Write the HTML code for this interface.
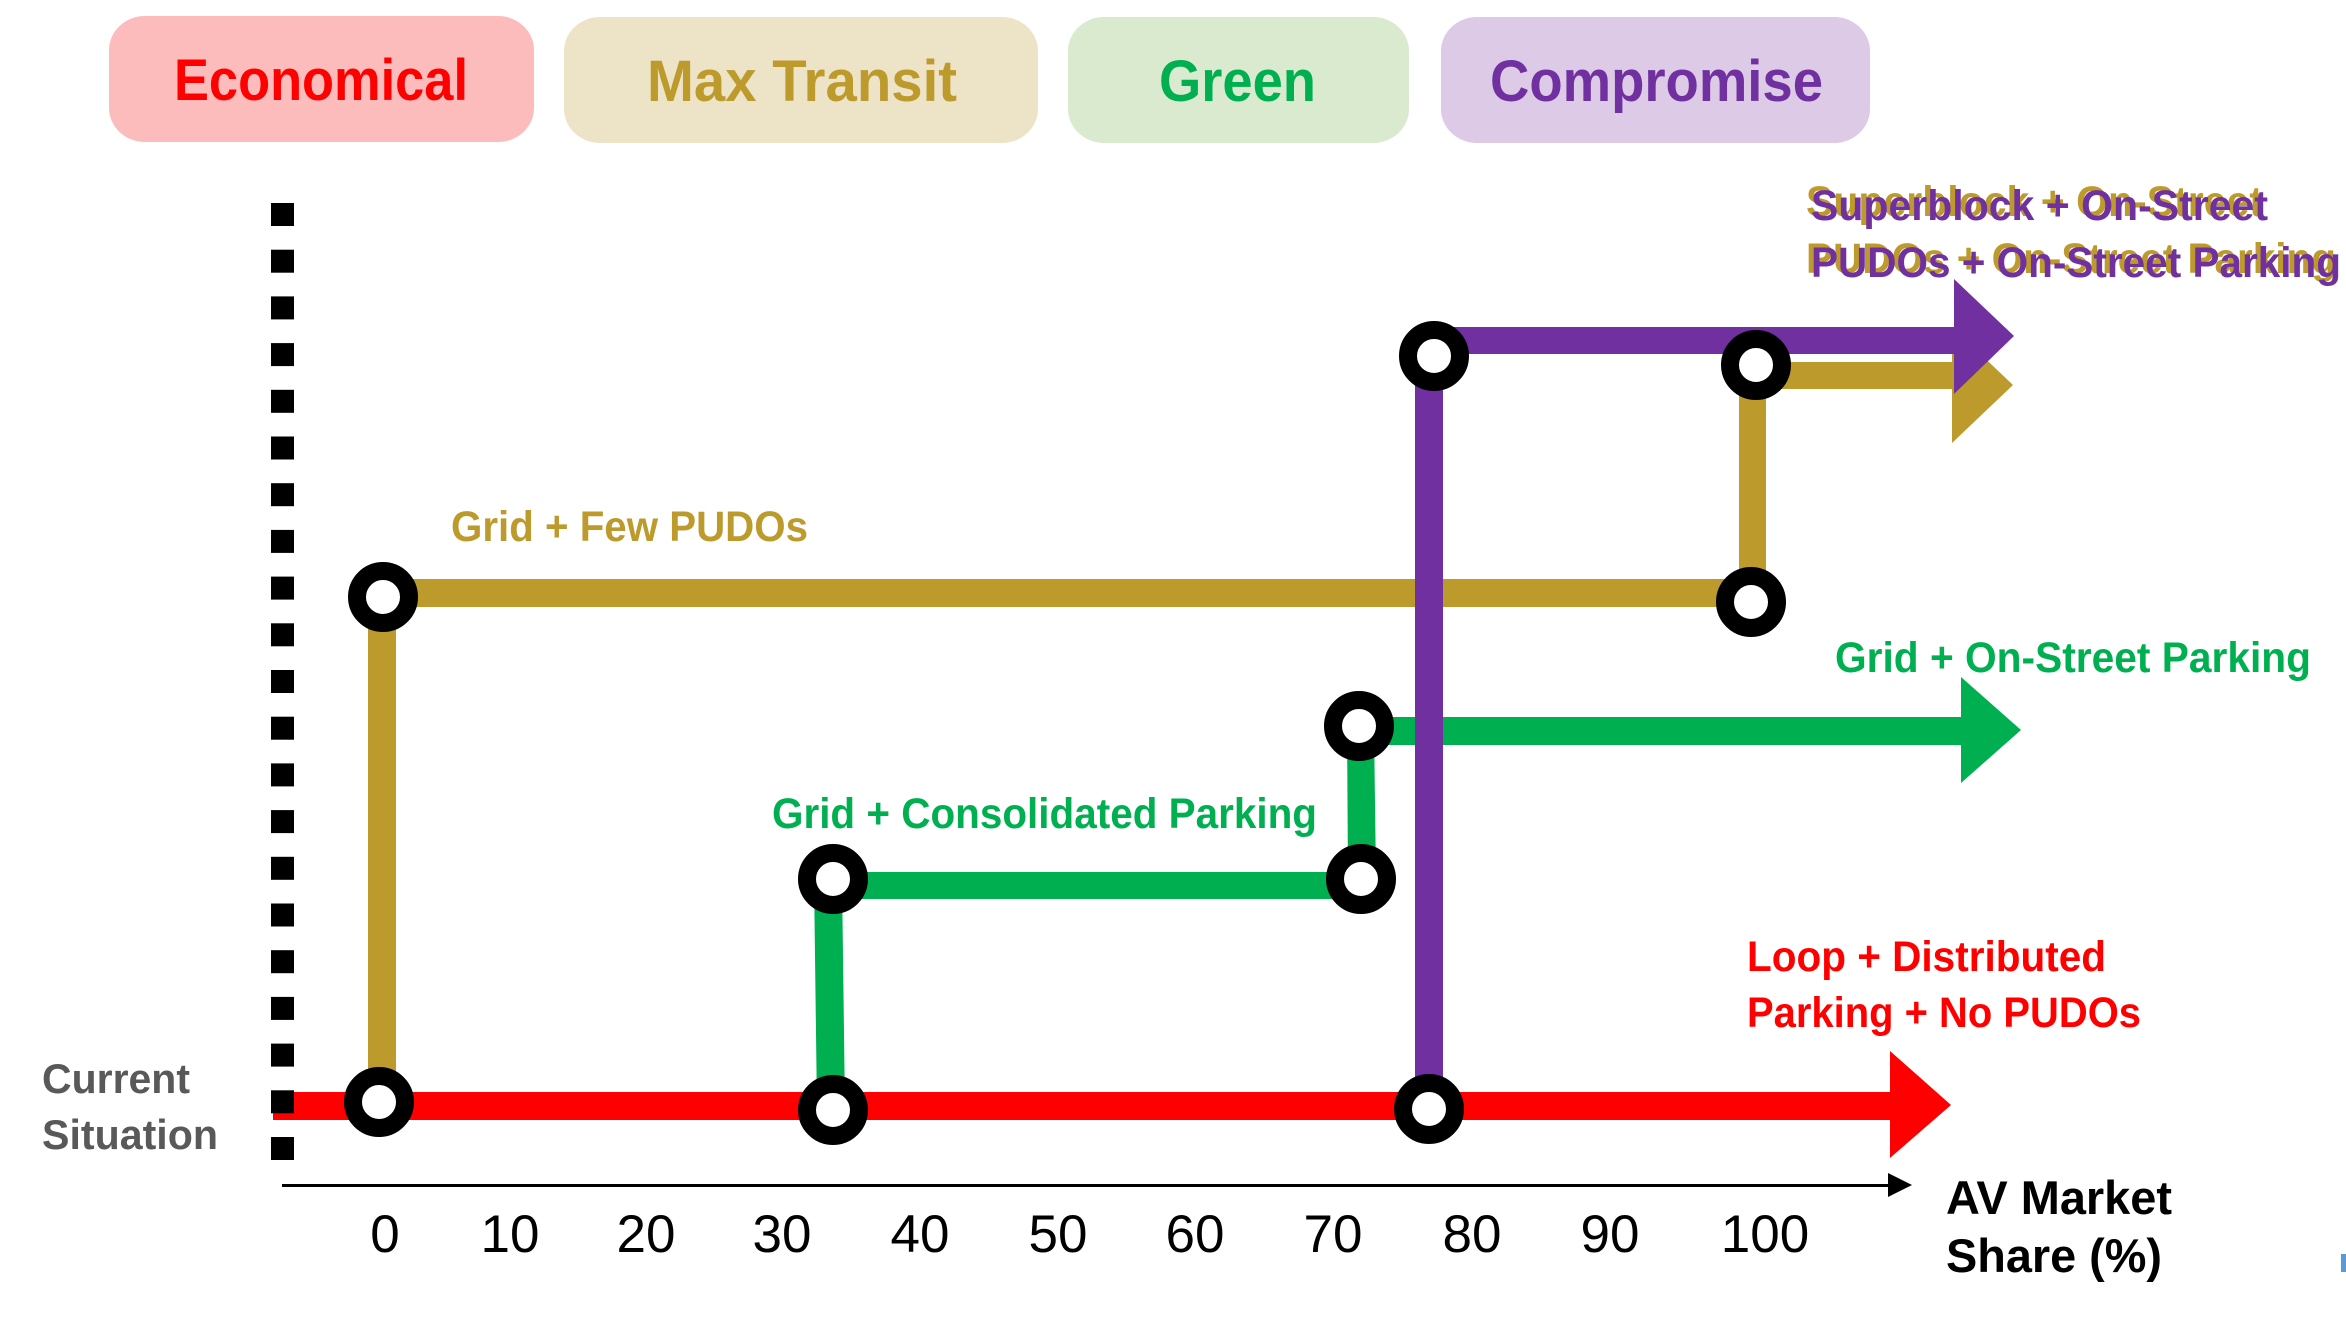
<!DOCTYPE html>
<html>
<head>
<meta charset="utf-8">
<style>
  html, body { margin: 0; padding: 0; background: #ffffff; }
  svg { display: block; }
  .cal { font-family: "Liberation Sans", "DejaVu Sans", sans-serif; font-weight: bold; }
  .ax { font-family: "Liberation Sans", Arial, sans-serif; }
</style>
</head>
<body>
<svg width="2346" height="1324" viewBox="0 0 2346 1324" xmlns="http://www.w3.org/2000/svg">
  <rect x="0" y="0" width="2346" height="1324" fill="#ffffff"/>

  <!-- Legend pills -->
  <rect x="109" y="16" width="425" height="126" rx="36" ry="34" fill="#FDBCBC"/>
  <rect x="564" y="17" width="474" height="126" rx="36" ry="34" fill="#EDE4C8"/>
  <rect x="1068" y="17" width="341" height="126" rx="36" ry="34" fill="#DAEACF"/>
  <rect x="1441" y="17" width="429" height="126" rx="36" ry="34" fill="#DCCAE6"/>
  <text class="cal" x="174" y="100" font-size="58" fill="#FF0000" textLength="294" lengthAdjust="spacingAndGlyphs">Economical</text>
  <text class="cal" x="647" y="101" font-size="58" fill="#BD9A2C" textLength="310" lengthAdjust="spacingAndGlyphs">Max Transit</text>
  <text class="cal" x="1159" y="101" font-size="58" fill="#00B050" textLength="157" lengthAdjust="spacingAndGlyphs">Green</text>
  <text class="cal" x="1490" y="101" font-size="58" fill="#7030A0" textLength="333" lengthAdjust="spacingAndGlyphs">Compromise</text>

  <!-- Red line -->
  <rect x="273" y="1092" width="1618" height="28" fill="#FF0000"/>
  <polygon points="1890,1051 1951,1105 1890,1158" fill="#FF0000"/>

  <!-- Dotted vertical line (drawn over red line) -->
  <g fill="#000000">
    <rect x="271" y="203" width="23" height="23"/>
    <rect x="271" y="249.7" width="23" height="23"/>
    <rect x="271" y="296.4" width="23" height="23"/>
    <rect x="271" y="343.1" width="23" height="23"/>
    <rect x="271" y="389.8" width="23" height="23"/>
    <rect x="271" y="436.5" width="23" height="23"/>
    <rect x="271" y="483.2" width="23" height="23"/>
    <rect x="271" y="529.9" width="23" height="23"/>
    <rect x="271" y="576.6" width="23" height="23"/>
    <rect x="271" y="623.3" width="23" height="23"/>
    <rect x="271" y="670" width="23" height="23"/>
    <rect x="271" y="716.7" width="23" height="23"/>
    <rect x="271" y="763.4" width="23" height="23"/>
    <rect x="271" y="810.1" width="23" height="23"/>
    <rect x="271" y="856.8" width="23" height="23"/>
    <rect x="271" y="903.5" width="23" height="23"/>
    <rect x="271" y="950.2" width="23" height="23"/>
    <rect x="271" y="996.9" width="23" height="23"/>
    <rect x="271" y="1043.6" width="23" height="23"/>
    <rect x="271" y="1090.3" width="23" height="23"/>
    <rect x="271" y="1137" width="23" height="23"/>
  </g>

  <!-- Gold line -->
  <rect x="368" y="597" width="28" height="505" fill="#BD9A2C"/>
  <rect x="383" y="579" width="1368" height="28" fill="#BD9A2C"/>
  <rect x="1739" y="365" width="27" height="237" fill="#BD9A2C"/>
  <rect x="1756" y="362" width="197" height="27" fill="#BD9A2C"/>
  <polygon points="1952,327 2013,385 1952,443" fill="#BD9A2C"/>

  <!-- Green line -->
  <polygon points="814,879 842,879 845,1110 817,1110" fill="#00B050"/>
  <rect x="833" y="872" width="528" height="27" fill="#00B050"/>
  <polygon points="1347,726 1374,726 1376,879 1348,879" fill="#00B050"/>
  <rect x="1359" y="717" width="603" height="28" fill="#00B050"/>
  <polygon points="1961,677 2021,730 1961,783" fill="#00B050"/>

  <!-- Purple line -->
  <rect x="1415" y="356" width="28" height="753" fill="#7030A0"/>
  <rect x="1434" y="327" width="521" height="27" fill="#7030A0"/>
  <polygon points="1954,279 2014,336 1954,394" fill="#7030A0"/>

  <!-- Stations -->
  <g fill="#ffffff" stroke="#000000" stroke-width="18">
    <circle cx="379" cy="1102" r="26"/>
    <circle cx="833" cy="1110" r="26"/>
    <circle cx="1429" cy="1109" r="26"/>
    <circle cx="383" cy="597" r="26"/>
    <circle cx="1751" cy="602" r="26"/>
    <circle cx="1756" cy="365" r="26"/>
    <circle cx="1434" cy="356" r="26"/>
    <circle cx="833" cy="879" r="26"/>
    <circle cx="1361" cy="879" r="26"/>
    <circle cx="1359" cy="726" r="26"/>
  </g>

  <!-- Route labels -->
  <text class="cal" x="451" y="541" font-size="43" fill="#BD9A2C" textLength="357" lengthAdjust="spacingAndGlyphs">Grid + Few PUDOs</text>
  <text class="cal" x="772" y="828" font-size="43" fill="#00B050" textLength="545" lengthAdjust="spacingAndGlyphs">Grid + Consolidated Parking</text>
  <text class="cal" x="1835" y="672" font-size="43" fill="#00B050" textLength="476" lengthAdjust="spacingAndGlyphs">Grid + On-Street Parking</text>
  <text class="cal" x="1747" y="971" font-size="43" fill="#FF0000" textLength="359" lengthAdjust="spacingAndGlyphs">Loop + Distributed</text>
  <text class="cal" x="1747" y="1027" font-size="43" fill="#FF0000" textLength="394" lengthAdjust="spacingAndGlyphs">Parking + No PUDOs</text>

  <text class="cal" x="1806" y="216" font-size="43" fill="#BD9A2C" textLength="457" lengthAdjust="spacingAndGlyphs">Superblock + On-Street</text>
  <text class="cal" x="1806" y="273" font-size="43" fill="#BD9A2C" textLength="530" lengthAdjust="spacingAndGlyphs">PUDOs + On-Street Parking</text>
  <text class="cal" x="1811" y="220" font-size="43" fill="#7030A0" textLength="457" lengthAdjust="spacingAndGlyphs">Superblock + On-Street</text>
  <text class="cal" x="1811" y="277" font-size="43" fill="#7030A0" textLength="530" lengthAdjust="spacingAndGlyphs">PUDOs + On-Street Parking</text>

  <text class="cal" x="42" y="1093" font-size="42" fill="#595959" textLength="148" lengthAdjust="spacingAndGlyphs">Current</text>
  <text class="cal" x="42" y="1149" font-size="42" fill="#595959" textLength="176" lengthAdjust="spacingAndGlyphs">Situation</text>

  <!-- Axis -->
  <rect x="282" y="1184" width="1608" height="3" fill="#000000"/>
  <polygon points="1888,1173 1912,1185 1888,1197" fill="#000000"/>
  <g class="ax" font-size="53" fill="#000000" text-anchor="middle">
    <text x="385" y="1252">0</text>
    <text x="510" y="1252">10</text>
    <text x="646" y="1252">20</text>
    <text x="782" y="1252">30</text>
    <text x="920" y="1252">40</text>
    <text x="1058" y="1252">50</text>
    <text x="1195" y="1252">60</text>
    <text x="1333" y="1252">70</text>
    <text x="1472" y="1252">80</text>
    <text x="1610" y="1252">90</text>
    <text x="1765" y="1252">100</text>
  </g>
  <text class="ax" x="1946" y="1214" font-size="47" font-weight="bold" fill="#000000" textLength="226" lengthAdjust="spacingAndGlyphs">AV Market</text>
  <text class="ax" x="1946" y="1272" font-size="47" font-weight="bold" fill="#000000" textLength="216" lengthAdjust="spacingAndGlyphs">Share (%)</text>

  <!-- tiny edge artifact -->
  <rect x="2341" y="1254" width="5" height="18" fill="#5B9BD5"/>
</svg>
</body>
</html>
